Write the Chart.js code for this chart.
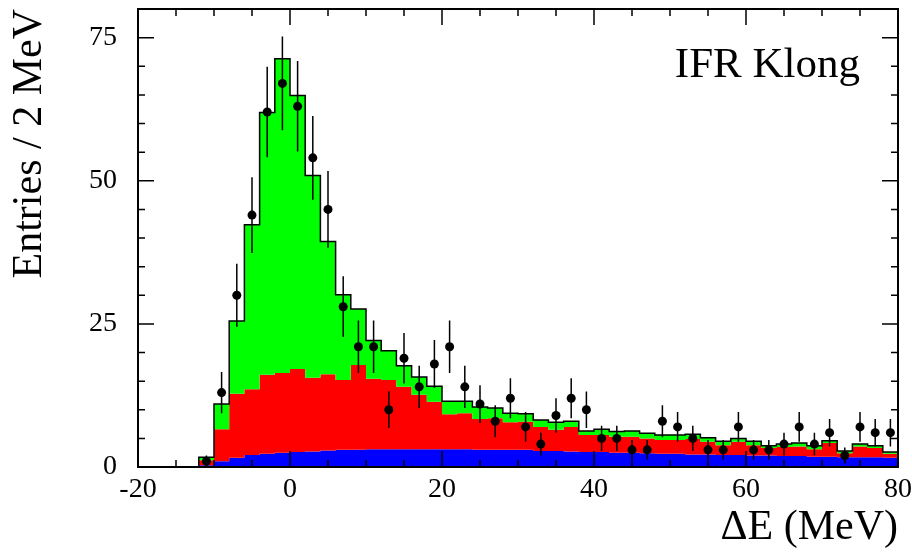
<!DOCTYPE html>
<html>
<head>
<meta charset="utf-8">
<script src="https://cdn.jsdelivr.net/npm/chart.js@4.4.1/dist/chart.umd.min.js"></script>
<style>
html,body{margin:0;padding:0;background:#fff;}
#wrap{width:912px;height:553px;position:relative;}
</style>
</head>
<body>
<div id="wrap"><canvas id="c"></canvas></div>
<script>
// ---- Data ----
const binLowEdges = [-20,-18,-16,-14,-12,-10,-8,-6,-4,-2,0,2,4,6,8,10,12,14,16,18,20,22,24,26,28,30,32,34,36,38,40,42,44,46,48,50,52,54,56,58,60,62,64,66,68,70,72,74,76,78];
const binUpperEdge = 80;
const blueComponent = [0,0,0,0,0.3,1.0,1.6,2.1,2.3,2.5,2.6,2.7,2.9,3.0,3.0,3.1,3.1,3.1,3.1,3.1,3.1,3.1,3.0,3.0,3.0,3.0,2.8,2.8,2.7,2.6,2.6,2.5,2.5,2.4,2.3,2.3,2.2,2.2,2.1,2.1,2.0,2.0,1.9,1.9,1.8,1.8,1.7,1.7,1.7,1.6];
const redComponent = [0,0,0,0,0.9,5.6,11.2,11.5,13.8,13.9,14.5,12.9,13.3,12.2,14.8,12.3,12.1,10.9,9.5,8.3,6.1,6.3,5.4,5.5,4.8,4.9,4.2,3.7,4.3,3.0,3.0,2.8,2.8,2.6,2.4,2.4,2.7,2.2,1.7,2.3,1.8,1.3,1.6,1.7,1.3,2.4,0.7,1.9,1.6,0.7];
const greenComponent = [0,0,0,0,0.5,4.4,12.7,28.7,45.8,54.9,47.8,35.3,23.2,14.9,9.8,6.7,5.1,3.7,3.1,2.7,2.3,2.1,2.1,1.8,1.6,1.4,1.2,1.3,1.0,0.7,1.0,0.9,1.0,0.9,0.9,0.9,0.8,0.7,0.7,0.6,0.7,0.4,0.5,0.6,0.6,0.4,0.4,0.4,0.4,0.3];
const dataCenters = [-11,-9,-7,-5,-3,-1,1,3,5,7,9,11,13,15,17,19,21,23,25,27,29,31,33,35,37,39,41,43,45,47,49,51,53,55,57,59,61,63,65,67,69,71,73,75,77,79];
const dataCounts = [1,13,30,44,62,67,63,54,45,28,21,21,10,19,14,18,21,14,11,8,12,7,4,9,12,10,5,5,3,3,8,7,5,3,3,7,3,3,4,7,4,6,2,7,6,6];
const dataErrors = [1.0,3.6,5.5,6.6,7.9,8.2,7.9,7.3,6.7,5.3,4.6,4.6,3.2,4.4,3.7,4.2,4.6,3.7,3.3,2.8,3.5,2.6,2.0,3.0,3.5,3.2,2.2,2.2,1.7,1.7,2.8,2.6,2.2,1.7,1.7,2.6,1.7,1.7,2.0,2.6,2.0,2.4,1.4,2.6,2.4,2.4];
const xTickLabels = [-20,0,20,40,60,80];
const yTickLabels = [0,25,50,75];
const xRange = [-20,80];
const yRange = [0,80];
const xTitle = 'ΔE (MeV)';
const yTitle = 'Entries / 2 MeV';
const annotationText = 'IFR Klong';

// ---- Build library structures ----
function cumulative(...parts){ return parts[0].map((_,i)=>parts.reduce((s,p)=>s+p[i],0)); }
const blueLevel = cumulative(blueComponent);
const redLevel = cumulative(blueComponent, redComponent);
const totalLevel = cumulative(blueComponent, redComponent, greenComponent);
function stepPoints(levels){
  const pts = binLowEdges.map((e,i)=>({x:e,y:levels[i]}));
  pts.push({x:binUpperEdge,y:levels[levels.length-1]});
  return pts;
}
const dataPoints = dataCenters.map((c,i)=>({x:c,y:dataCounts[i]}));
const errorSegments = [];
dataCenters.forEach((c,i)=>{
  errorSegments.push({x:c,y:dataCounts[i]-dataErrors[i]});
  errorSegments.push({x:c,y:dataCounts[i]+dataErrors[i]});
  errorSegments.push({x:c,y:null});
});

const FONT = '"Liberation Serif", "Times New Roman", serif';

const frameTicks = {
  id:'frameTicks',
  afterDatasetsDraw(chart){
    const {ctx, chartArea:a, scales:{x,y}} = chart;
    ctx.save();
    ctx.strokeStyle = '#000';
    ctx.lineWidth = 1.5;
    ctx.beginPath();
    for (let v = xRange[0]; v <= xRange[1]; v += 5){
      const px = x.getPixelForValue(v);
      const len = (v % 20 === 0) ? 16 : 7;
      ctx.moveTo(px, a.bottom); ctx.lineTo(px, a.bottom - len);
      ctx.moveTo(px, a.top); ctx.lineTo(px, a.top + len);
    }
    for (let v = yRange[0]; v < yRange[1]; v += 5){
      const py = y.getPixelForValue(v);
      const len = (v % 25 === 0) ? 16 : 7;
      ctx.moveTo(a.left, py); ctx.lineTo(a.left + len, py);
      ctx.moveTo(a.right, py); ctx.lineTo(a.right - len, py);
    }
    ctx.stroke();
    ctx.lineWidth = 2;
    ctx.strokeRect(a.left, a.top, a.right - a.left, a.bottom - a.top);
    ctx.fillStyle = '#000';
    ctx.font = '43px ' + FONT;
    ctx.textAlign = 'right';
    ctx.textBaseline = 'alphabetic';
    ctx.fillText(annotationText, a.right - 38, a.top + 68);
    ctx.restore();
  }
};

new Chart(document.getElementById('c'), {
  type:'line',
  data:{
    datasets:[
      {label:'blue', data:stepPoints(blueLevel), stepped:'before', fill:'origin',
       backgroundColor:'#0000ff', borderColor:'rgba(0,0,0,0)', borderWidth:0, pointRadius:0, order:5},
      {label:'red', data:stepPoints(redLevel), stepped:'before', fill:0,
       backgroundColor:'#ff0000', borderColor:'rgba(0,0,0,0)', borderWidth:0, pointRadius:0, order:4},
      {label:'total', data:stepPoints(totalLevel), stepped:'before', fill:1,
       backgroundColor:'#00ff00', borderColor:'#000', borderWidth:1.5, pointRadius:0, order:3},
      {label:'errors', data:errorSegments, spanGaps:false, fill:false,
       borderColor:'#000', borderWidth:1.5, pointRadius:0, order:2},
      {label:'data', data:dataPoints, showLine:false, fill:false,
       pointRadius:4.5, pointBackgroundColor:'#000', pointBorderWidth:0, order:1}
    ]
  },
  options:{
    responsive:true,
    maintainAspectRatio:false,
    animation:false,
    events:[],
    layout:{padding:{top:9,right:14,left:0,bottom:0}},
    plugins:{legend:{display:false}, tooltip:{enabled:false}},
    scales:{
      x:{
        type:'linear', min:xRange[0], max:xRange[1],
        grid:{display:false, drawTicks:false},
        border:{display:false},
        afterBuildTicks(s){ s.ticks = xTickLabels.map(v=>({value:v})); },
        afterFit(s){ s.height = 86; s.paddingLeft = 0; s.paddingRight = 0; },
        ticks:{font:{family:FONT,size:28}, color:'#000', padding:6, maxRotation:0, autoSkip:false},
        title:{display:true, text:xTitle, align:'end', font:{family:FONT,size:42}, color:'#000', padding:{top:0,bottom:0}}
      },
      y:{
        type:'linear', min:yRange[0], max:yRange[1],
        grid:{display:false, drawTicks:false},
        border:{display:false},
        afterBuildTicks(s){ s.ticks = yTickLabels.map(v=>({value:v})); },
        afterFit(s){ s.width = 138; s.paddingTop = 0; s.paddingBottom = 0; },
        ticks:{font:{family:FONT,size:28}, color:'#000', padding:21},
        title:{display:true, text:yTitle, align:'end', font:{family:FONT,size:42}, color:'#000', padding:{top:5,bottom:0}}
      }
    }
  },
  plugins:[frameTicks]
});
</script>
</body>
</html>
